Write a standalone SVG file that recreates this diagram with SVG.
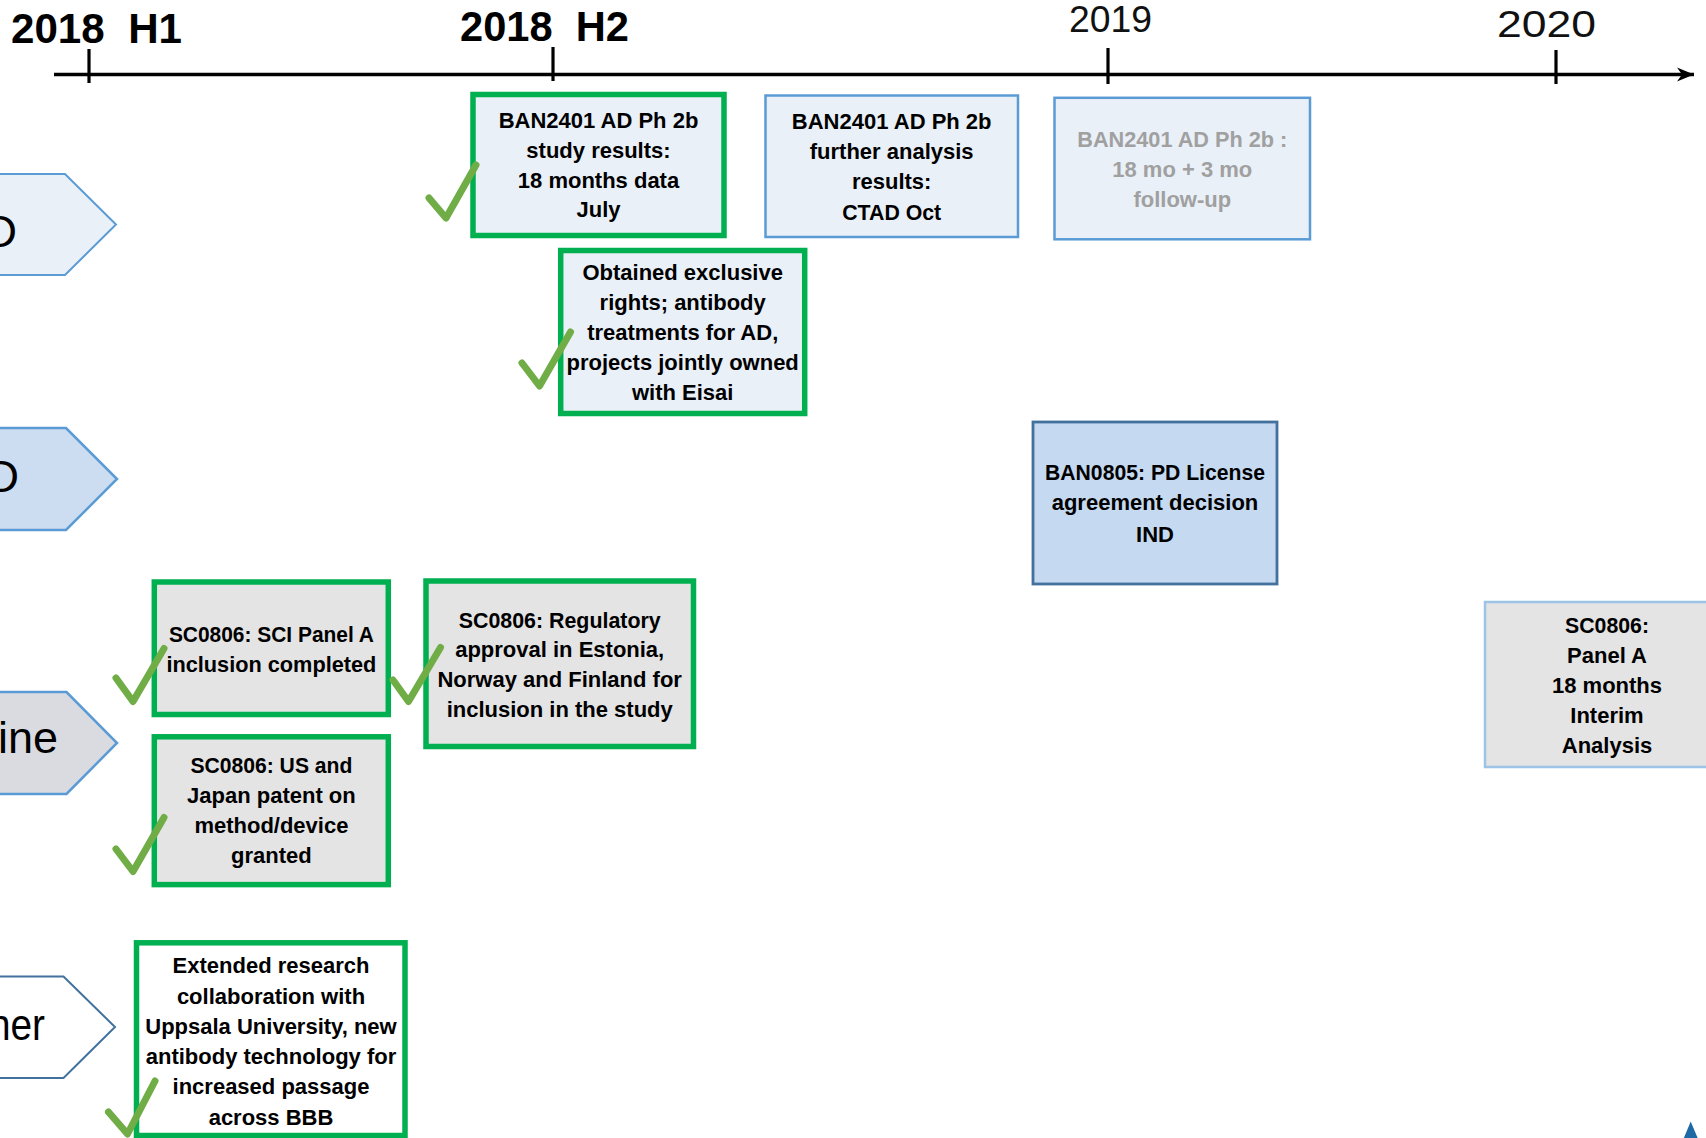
<svg xmlns="http://www.w3.org/2000/svg" width="1706" height="1138" viewBox="0 0 1706 1138">
<style>
  text { font-family: "Liberation Sans", Arial, sans-serif; }
  .lbl { font-size: 22px; font-weight: bold; fill: #000; text-anchor: middle; }
  .gray { fill: #A0A0A0; }
  .yr { font-weight: bold; font-size: 42px; fill: #000; }
  .yr2 { font-size: 37px; fill: #111; }
  .chev { font-size: 45px; fill: #000; text-anchor: end; }
  .done { stroke: #00B050; stroke-width: 5.5; }
  .blue { stroke: #5B9BD5; stroke-width: 2.5; }
  .lightfill { fill: #EAF0F8; }
  .grayfill { fill: #E4E4E4; }
  .check { fill: none; stroke: #70AD47; stroke-width: 7; stroke-linecap: round; stroke-linejoin: round; }
  .tick { stroke: #000; stroke-width: 3.2; }
</style>
<defs>
  <marker id="axisArrow" markerUnits="userSpaceOnUse" markerWidth="20" markerHeight="16" refX="17" refY="8" orient="auto">
    <path d="M0,1 L17,8 L0,15 L5,8 Z" fill="#000"/>
  </marker>
</defs>
<rect x="0" y="0" width="1706" height="1138" fill="#FFFFFF"/>

<g id="timeline">
  <line x1="54" y1="74.5" x2="1694" y2="74.5" stroke="#000" stroke-width="3.6" marker-end="url(#axisArrow)"/>
  <line class="tick" x1="89" y1="49" x2="89" y2="83"/>
  <line class="tick" x1="553" y1="47" x2="553" y2="81"/>
  <line class="tick" x1="1108" y1="48" x2="1108" y2="84"/>
  <line class="tick" x1="1556" y1="50" x2="1556" y2="84"/>
  <text class="yr" x="11" y="43" textLength="171" lengthAdjust="spacingAndGlyphs" xml:space="preserve">2018  H1</text>
  <text class="yr" x="460" y="41" textLength="169" lengthAdjust="spacingAndGlyphs" xml:space="preserve">2018  H2</text>
  <text class="yr2" x="1069" y="32" textLength="83" lengthAdjust="spacingAndGlyphs">2019</text>
  <text class="yr2" x="1497" y="37" font-size="38" fill="#262626" textLength="99" lengthAdjust="spacingAndGlyphs">2020</text>
</g>

<g id="row-labels">
  <g id="chevron1">
    <polygon points="-10,174 65,174 116,224.5 65,275 -10,275" fill="#EAF0F8" stroke="#5B9BD5" stroke-width="2"/>
    <text class="chev" x="17" y="246.7">D</text>
  </g>
  <g id="chevron2">
    <polygon points="-10,428 66,428 117,479 66,530 -10,530" fill="#CCDCF1" stroke="#5B9BD5" stroke-width="2.5"/>
    <text class="chev" x="19" y="491.5">D</text>
  </g>
  <g id="chevron3">
    <polygon points="-10,692 66.5,692 117,743 66.5,794 -10,794" fill="#DADBE0" stroke="#5B9BD5" stroke-width="2.5"/>
    <text class="chev" x="58" y="753.3">ine</text>
  </g>
  <g id="chevron4">
    <polygon points="-10,976.5 63.5,976.5 115,1027 63.5,1078 -10,1078" fill="#FFFFFF" stroke="#41719C" stroke-width="2"/>
    <text class="chev" x="45" y="1040" textLength="56" lengthAdjust="spacingAndGlyphs">her</text>
  </g>
</g>

<g id="nodes">
  <g id="ban2401-results">
    <rect x="473" y="94.5" width="251" height="141" class="lightfill done"/>
    <text class="lbl" x="598.5" y="127.5">BAN2401 AD Ph 2b</text>
    <text class="lbl" x="598.5" y="157.5">study results:</text>
    <text class="lbl" x="598.5" y="187.5">18 months data</text>
    <text class="lbl" x="598.5" y="217">July</text>
    <path class="check" d="M429,198 L446,218 L476,165"/>
  </g>
  <g id="ban2401-further">
    <rect x="765.5" y="95.5" width="252.5" height="141.5" class="lightfill blue"/>
    <text class="lbl" x="891.7" y="129.3">BAN2401 AD Ph 2b</text>
    <text class="lbl" x="891.7" y="159.3">further analysis</text>
    <text class="lbl" x="891.7" y="189.3">results:</text>
    <text class="lbl" x="891.7" y="220" textLength="99" lengthAdjust="spacingAndGlyphs">CTAD Oct</text>
  </g>
  <g id="ban2401-followup">
    <rect x="1054.5" y="97.8" width="255.5" height="141.5" class="lightfill blue"/>
    <text class="lbl gray" x="1182.3" y="146.7" textLength="210" lengthAdjust="spacingAndGlyphs">BAN2401 AD Ph 2b :</text>
    <text class="lbl gray" x="1182.3" y="176.7">18 mo + 3 mo</text>
    <text class="lbl gray" x="1182.3" y="206.7">follow-up</text>
  </g>
  <g id="exclusive-rights">
    <rect x="560.7" y="250.5" width="244" height="163" class="lightfill done"/>
    <text class="lbl" x="682.7" y="280">Obtained exclusive</text>
    <text class="lbl" x="682.7" y="310">rights; antibody</text>
    <text class="lbl" x="682.7" y="339.5">treatments for AD,</text>
    <text class="lbl" x="682.7" y="369.5">projects jointly owned</text>
    <text class="lbl" x="682.7" y="400">with Eisai</text>
    <path class="check" d="M522,363 L539.5,386 L570.5,332"/>
  </g>
  <g id="ban0805-license">
    <rect x="1033" y="422" width="244" height="162" fill="#C5D9F0" stroke="#41719C" stroke-width="2.8"/>
    <text class="lbl" x="1155" y="480" textLength="220" lengthAdjust="spacingAndGlyphs">BAN0805: PD License</text>
    <text class="lbl" x="1155" y="510">agreement decision</text>
    <text class="lbl" x="1155" y="541.5">IND</text>
  </g>
  <g id="sc0806-panel-a">
    <rect x="154.3" y="582" width="234" height="132.5" class="grayfill done"/>
    <text class="lbl" x="271.4" y="641.7" textLength="205" lengthAdjust="spacingAndGlyphs">SC0806: SCI Panel A</text>
    <text class="lbl" x="271.4" y="671.7" textLength="210" lengthAdjust="spacingAndGlyphs">inclusion completed</text>
    <path class="check" d="M116,678 L133,701.5 L164,648.5"/>
  </g>
  <g id="sc0806-regulatory">
    <rect x="426" y="581" width="267.5" height="165.5" class="grayfill done"/>
    <text class="lbl" x="559.7" y="628.3" textLength="202" lengthAdjust="spacingAndGlyphs">SC0806: Regulatory</text>
    <text class="lbl" x="559.7" y="657.3">approval in Estonia,</text>
    <text class="lbl" x="559.7" y="687.3">Norway and Finland for</text>
    <text class="lbl" x="559.7" y="717.3">inclusion in the study</text>
    <path class="check" d="M393,680 L408.5,701.5 L440.5,647.5"/>
  </g>
  <g id="sc0806-patent">
    <rect x="154.3" y="736.8" width="234" height="147.8" class="grayfill done"/>
    <text class="lbl" x="271.4" y="773.3" textLength="162" lengthAdjust="spacingAndGlyphs">SC0806: US and</text>
    <text class="lbl" x="271.4" y="803.3">Japan patent on</text>
    <text class="lbl" x="271.4" y="833.3">method/device</text>
    <text class="lbl" x="271.4" y="863.3">granted</text>
    <path class="check" d="M116,849 L133,871.5 L164,817.5"/>
  </g>
  <g id="sc0806-interim">
    <rect x="1485" y="602" width="245" height="165" fill="#E4E4E4" stroke="#9DC3E6" stroke-width="2.5"/>
    <text class="lbl" x="1607" y="632.7" textLength="84" lengthAdjust="spacingAndGlyphs">SC0806:</text>
    <text class="lbl" x="1607" y="662.7">Panel A</text>
    <text class="lbl" x="1607" y="692.7">18 months</text>
    <text class="lbl" x="1607" y="722.7">Interim</text>
    <text class="lbl" x="1607" y="752.7">Analysis</text>
  </g>
  <g id="uppsala-collaboration">
    <rect x="136.5" y="942.8" width="268.5" height="192.7" fill="#FFFFFF" class="done"/>
    <text class="lbl" x="271" y="973.3">Extended research</text>
    <text class="lbl" x="271" y="1004">collaboration with</text>
    <text class="lbl" x="271" y="1034">Uppsala University, new</text>
    <text class="lbl" x="271" y="1064">antibody technology for</text>
    <text class="lbl" x="271" y="1094">increased passage</text>
    <text class="lbl" x="271" y="1125">across BBB</text>
    <path class="check" d="M108.5,1112 L127.5,1134 L155,1081"/>
  </g>
  <polygon id="corner-marker" points="1690.7,1121.5 1698.5,1140 1683,1140" fill="#1F6AA5"/>
</g>
<g id="connectors"></g>
</svg>
